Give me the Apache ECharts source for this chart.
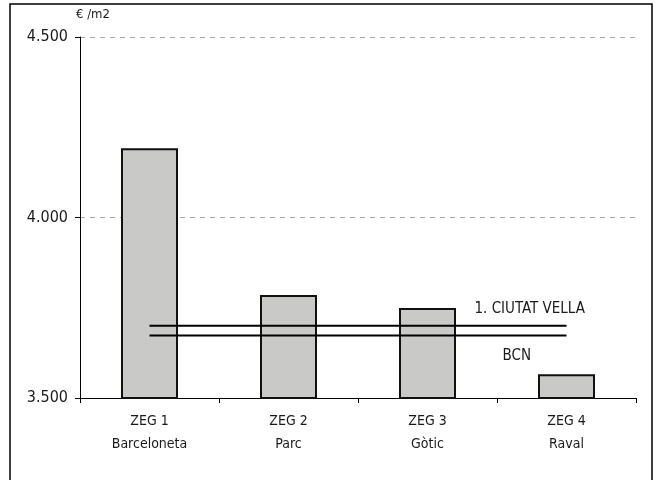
<!DOCTYPE html>
<html><head><meta charset="utf-8">
<script src="https://cdn.jsdelivr.net/npm/echarts@6/dist/echarts.min.js"></script>
<style>html,body{margin:0;padding:0;background:#fff}#c{width:657px;height:480px}</style>
</head><body><div id="c"></div>
<script>
const categories = ['ZEG 1\nBarceloneta', 'ZEG 2\nParc', 'ZEG 3\nGòtic', 'ZEG 4\nRaval'];
const zegValues = [4192, 3785, 3749, 3566];
const ciutatVellaName = '1. CIUTAT VELLA';
const ciutatVellaValue = 3700;
const bcnName = 'BCN';
const bcnValue = 3673;
const yUnit = '€ /m2';

const FONT = '"Liberation Sans Narrow","DejaVu Sans Condensed",sans-serif';
const chart = echarts.init(document.getElementById('c'), null, {renderer: 'canvas'});
function fmt(v){ return String(v).replace(/\B(?=(\d{3})+(?!\d))/g, '.'); }
chart.setOption({
  animation: false,
  backgroundColor: '#fff',
  grid: {left: 80, right: 21, top: 37, bottom: 82},
  xAxis: {
    type: 'category', data: categories,
    axisLine: {lineStyle: {color: '#000', width: 1}},
    axisTick: {show: true, length: 5, alignWithLabel: false, lineStyle: {color: '#000'}},
    axisLabel: {color: '#1a1a1a', fontFamily: FONT, fontSize: 14, lineHeight: 23, margin: 12}
  },
  yAxis: {
    type: 'value', min: 3500, max: 4500, interval: 500,
    name: yUnit, nameLocation: 'end', nameGap: 16,
    nameTextStyle: {color: '#1a1a1a', fontFamily: FONT, fontSize: 13, align: 'left', padding: [0, 0, 0, -4]},
    axisLine: {show: true, lineStyle: {color: '#000', width: 1}},
    axisTick: {show: true, length: 5, lineStyle: {color: '#000'}},
    axisLabel: {color: '#1a1a1a', fontFamily: FONT, fontSize: 16, margin: 12, formatter: fmt},
    splitLine: {show: true, lineStyle: {color: '#aaa', type: [5, 5], width: 1}}
  },
  series: [
    {type: 'bar', data: zegValues, barWidth: 57,
     itemStyle: {color: '#c9c9c7', borderColor: '#111', borderWidth: 2}, z: 2},
    {type: 'line', name: ciutatVellaName, data: categories.map(() => ciutatVellaValue),
     symbol: 'none', lineStyle: {color: '#000', width: 2}, z: 5,
     endLabel: {show: true, formatter: ciutatVellaName, color: '#1a1a1a', fontFamily: FONT, fontSize: 15,
       offset: [-100, -17]}},
    {type: 'line', name: bcnName, data: categories.map(() => bcnValue),
     symbol: 'none', lineStyle: {color: '#000', width: 2}, z: 5,
     endLabel: {show: true, formatter: bcnName, color: '#1a1a1a', fontFamily: FONT, fontSize: 15,
       offset: [-72, 21]}}
  ],
  graphic: [{type: 'rect', shape: {x: 10, y: 4, width: 642, height: 482},
    style: {fill: 'none', stroke: '#000', lineWidth: 1.5}, silent: true, z: 100}]
});
</script></body></html>
